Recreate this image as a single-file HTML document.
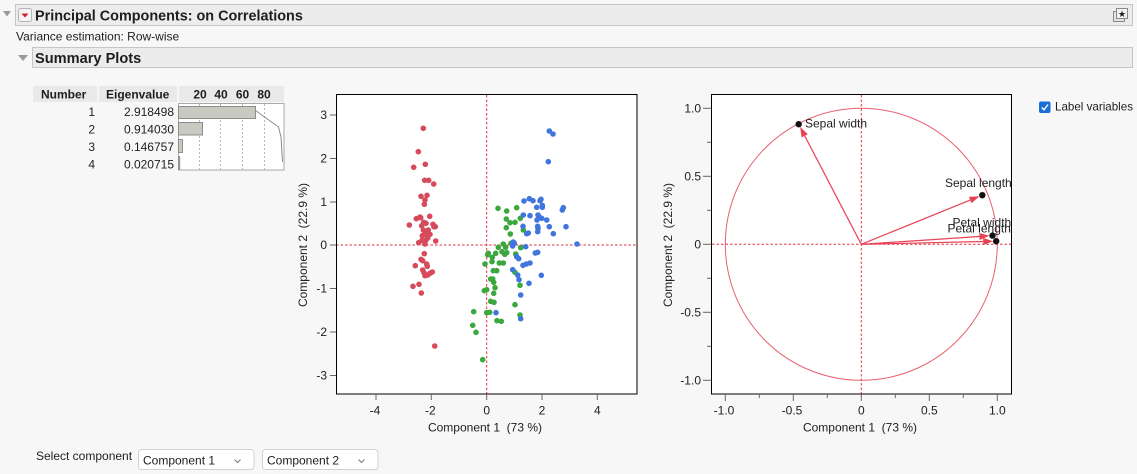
<!DOCTYPE html>
<html>
<head>
<meta charset="utf-8">
<style>
html,body{margin:0;padding:0;background:#f7f7f7;}
svg{display:block;font-family:"Liberation Sans","DejaVu Sans",sans-serif;}
text{fill:#1e1e1e;}
</style>
</head>
<body>
<svg width="1137" height="474" viewBox="0 0 1137 474" xmlns="http://www.w3.org/2000/svg">
<rect x="0" y="0" width="1137" height="474" fill="#f7f7f7"/>

<!-- Title bar -->
<polygon points="3,11 11,11 7,16.5" fill="#9a9a9a"/>
<rect x="15.5" y="4.5" width="1117" height="21" fill="#ececec" stroke="#c6c6c6"/>
<rect x="18.5" y="8.5" width="13" height="13" rx="2" fill="#f4f4f4" stroke="#b4b4b4"/>
<polygon points="21.5,13.5 28.5,13.5 25,17.5" fill="#d0202a"/>
<text x="35" y="20.5" font-size="14.4" font-weight="bold" fill="#111">Principal Components: on Correlations</text>
<!-- top right icon -->
<rect x="1113.5" y="11.5" width="11" height="10" fill="#e4e4e4" stroke="#8a8a8a"/>
<rect x="1116.5" y="8.5" width="11" height="10" fill="#f2f2f2" stroke="#8a8a8a"/>
<text x="1122" y="17" font-size="9" text-anchor="middle" fill="#555">★</text>

<text x="16" y="40.5" font-size="12">Variance estimation: Row-wise</text>

<!-- Summary Plots bar -->
<polygon points="18,55 28,55 23,61" fill="#9a9a9a"/>
<rect x="32.5" y="47.5" width="1100" height="20" fill="#ececec" stroke="#c6c6c6"/>
<text x="35" y="63" font-size="14.6" font-weight="bold" fill="#111">Summary Plots</text>

<!-- Eigenvalue table -->
<rect x="33" y="86" width="64" height="16" fill="#e9e9e9"/>
<rect x="99" y="86" width="78" height="16" fill="#e9e9e9"/>
<rect x="179" y="86" width="105" height="16" fill="#e9e9e9"/>
<text x="41" y="98.5" font-size="12" font-weight="bold">Number</text>
<text x="106" y="98.5" font-size="12" font-weight="bold">Eigenvalue</text>
<g font-size="12" font-weight="bold" text-anchor="middle">
<text x="200" y="98.5">20</text><text x="221" y="98.5">40</text><text x="242.5" y="98.5">60</text><text x="264" y="98.5">80</text>
</g>
<g font-size="12" text-anchor="end">
<text x="95" y="116">1</text><text x="174" y="116">2.918498</text>
<text x="95" y="133.5">2</text><text x="174" y="133.5">0.914030</text>
<text x="95" y="151">3</text><text x="174" y="151">0.146757</text>
<text x="95" y="168.5">4</text><text x="174" y="168.5">0.020715</text>
</g>
<rect x="178.5" y="103.5" width="105.5" height="66.5" fill="#ffffff" stroke="#a8a8a8"/>
<g stroke="#b8b8b8" stroke-dasharray="2,2" stroke-width="1">
<line x1="199.5" y1="104" x2="199.5" y2="170"/>
<line x1="220.5" y1="104" x2="220.5" y2="170"/>
<line x1="242.5" y1="104" x2="242.5" y2="170"/>
<line x1="264.5" y1="104" x2="264.5" y2="170"/>
</g>
<g fill="#c9c9c1" stroke="#8e8e88">
<rect x="178.5" y="106.5" width="77" height="12"/>
<rect x="178.5" y="122.5" width="24" height="12.5"/>
<rect x="178.5" y="139.5" width="4" height="13"/>
<rect x="178.5" y="156.5" width="1.2" height="13"/>
</g>
<polyline points="255.5,110.5 278.5,127 281,137 282.5,162" fill="none" stroke="#8a8a8a" stroke-width="1"/>

<!-- ===== Score plot ===== -->
<rect x="336" y="94.5" width="301" height="299.5" fill="#ffffff"/>
<g stroke="#e0303f" stroke-width="1" stroke-dasharray="2.5,2">
<line x1="486.7" y1="95" x2="486.7" y2="394"/>
<line x1="336" y1="245" x2="637" y2="245"/>
</g>
<g fill="#d64a5a">
<circle cx="423.3" cy="128.3" r="2.8"/><circle cx="418.3" cy="151.7" r="2.8"/><circle cx="413.7" cy="167.3" r="2.8"/><circle cx="425.3" cy="164.3" r="2.8"/>
<circle cx="424.7" cy="180.3" r="2.8"/><circle cx="428.7" cy="180.3" r="2.8"/><circle cx="433.7" cy="184" r="2.8"/><circle cx="421" cy="196.3" r="2.8"/>
<circle cx="427" cy="195.3" r="2.8"/><circle cx="425" cy="200" r="2.8"/><circle cx="424.3" cy="204.3" r="2.8"/><circle cx="429.7" cy="216.3" r="2.8"/>
<circle cx="420" cy="217" r="2.8"/><circle cx="416.3" cy="218.7" r="2.8"/><circle cx="409.3" cy="225" r="2.8"/><circle cx="423.7" cy="222.3" r="2.8"/>
<circle cx="426" cy="223.3" r="2.8"/><circle cx="421.7" cy="225.7" r="2.8"/><circle cx="433" cy="224.3" r="2.8"/><circle cx="435.3" cy="226.7" r="2.8"/>
<circle cx="434" cy="226.7" r="2.8"/><circle cx="426" cy="231.7" r="2.8"/><circle cx="424.7" cy="234.3" r="2.8"/><circle cx="422.3" cy="235.7" r="2.8"/>
<circle cx="430" cy="234.3" r="2.8"/><circle cx="427.7" cy="238" r="2.8"/><circle cx="422" cy="240.3" r="2.8"/><circle cx="418.7" cy="242.7" r="2.8"/>
<circle cx="425" cy="244" r="2.8"/><circle cx="435.7" cy="241" r="2.8"/><circle cx="424.3" cy="253.7" r="2.8"/><circle cx="421" cy="259.3" r="2.8"/>
<circle cx="422.7" cy="260.7" r="2.8"/><circle cx="415.3" cy="265.7" r="2.8"/><circle cx="426.7" cy="264" r="2.8"/><circle cx="427.3" cy="266.3" r="2.8"/>
<circle cx="422.7" cy="270" r="2.8"/><circle cx="432.3" cy="272" r="2.8"/><circle cx="430" cy="273.3" r="2.8"/><circle cx="425" cy="275.7" r="2.8"/>
<circle cx="427.7" cy="275" r="2.8"/><circle cx="419" cy="284.3" r="2.8"/><circle cx="413" cy="286.3" r="2.8"/><circle cx="421.3" cy="293" r="2.8"/>
<circle cx="434.7" cy="346" r="2.8"/><circle cx="420.7" cy="217.7" r="2.8"/><circle cx="423.3" cy="230" r="2.8"/><circle cx="428.3" cy="230" r="2.8"/>
<circle cx="426" cy="240" r="2.8"/><circle cx="424" cy="272.7" r="2.8"/>
</g>
<g fill="#3ba83f">
<circle cx="498" cy="208.3" r="2.8"/><circle cx="506.7" cy="211" r="2.8"/><circle cx="516.7" cy="207.7" r="2.8"/><circle cx="506.3" cy="219" r="2.8"/>
<circle cx="520.3" cy="218.3" r="2.8"/><circle cx="510" cy="222.7" r="2.8"/><circle cx="515" cy="222.3" r="2.8"/><circle cx="506.3" cy="227.7" r="2.8"/>
<circle cx="523.3" cy="230" r="2.8"/><circle cx="510.3" cy="234" r="2.8"/>
<circle cx="503.3" cy="244" r="2.8"/><circle cx="511" cy="243.3" r="2.8"/><circle cx="498.3" cy="247.3" r="2.8"/><circle cx="505.7" cy="247.3" r="2.8"/>
<circle cx="520.7" cy="247.7" r="2.8"/><circle cx="502" cy="251.7" r="2.8"/><circle cx="506.7" cy="252.7" r="2.8"/><circle cx="504.7" cy="254.3" r="2.8"/>
<circle cx="488.3" cy="253.3" r="2.8"/><circle cx="487.7" cy="254.7" r="2.8"/><circle cx="495.7" cy="253.3" r="2.8"/><circle cx="515.7" cy="254" r="2.8"/>
<circle cx="492.3" cy="257.3" r="2.8"/><circle cx="492" cy="261.7" r="2.8"/><circle cx="485" cy="264" r="2.8"/><circle cx="499.3" cy="263" r="2.8"/>
<circle cx="503.3" cy="263" r="2.8"/><circle cx="493.3" cy="270.7" r="2.8"/><circle cx="496.7" cy="270.7" r="2.8"/><circle cx="515" cy="272.3" r="2.8"/>
<circle cx="490.7" cy="279" r="2.8"/><circle cx="492.7" cy="279" r="2.8"/><circle cx="493.7" cy="282.3" r="2.8"/><circle cx="520" cy="285.3" r="2.8"/>
<circle cx="495" cy="287.7" r="2.8"/><circle cx="484.3" cy="290.7" r="2.8"/><circle cx="486.7" cy="289.7" r="2.8"/><circle cx="493.7" cy="293.3" r="2.8"/>
<circle cx="490.7" cy="301.3" r="2.8"/><circle cx="494" cy="302.3" r="2.8"/><circle cx="515" cy="304.7" r="2.8"/><circle cx="473.7" cy="311.7" r="2.8"/>
<circle cx="486.7" cy="312.7" r="2.8"/><circle cx="489.7" cy="312.3" r="2.8"/><circle cx="520" cy="315" r="2.8"/><circle cx="497" cy="320.7" r="2.8"/>
<circle cx="501.3" cy="321.3" r="2.8"/><circle cx="472.7" cy="325.3" r="2.8"/><circle cx="476" cy="332.3" r="2.8"/><circle cx="482.7" cy="359.7" r="2.8"/>
</g>
<g fill="#4175de">
<circle cx="549.3" cy="131" r="2.8"/><circle cx="553" cy="134" r="2.8"/><circle cx="548.3" cy="161.7" r="2.8"/><circle cx="524" cy="201" r="2.8"/>
<circle cx="529.3" cy="198.7" r="2.8"/><circle cx="533" cy="200.7" r="2.8"/><circle cx="540" cy="200.7" r="2.8"/><circle cx="541" cy="199.3" r="2.8"/>
<circle cx="536.7" cy="207.3" r="2.8"/><circle cx="542.3" cy="205.3" r="2.8"/><circle cx="542.3" cy="207.3" r="2.8"/><circle cx="562.3" cy="210" r="2.8"/>
<circle cx="563.3" cy="207.7" r="2.8"/><circle cx="523.3" cy="215" r="2.8"/><circle cx="530" cy="215.7" r="2.8"/><circle cx="538" cy="215" r="2.8"/>
<circle cx="539" cy="216.7" r="2.8"/><circle cx="537" cy="220" r="2.8"/><circle cx="541.7" cy="218.3" r="2.8"/><circle cx="546.7" cy="220" r="2.8"/>
<circle cx="523" cy="226.3" r="2.8"/><circle cx="537.7" cy="226.3" r="2.8"/><circle cx="538" cy="228.3" r="2.8"/><circle cx="549.3" cy="226.7" r="2.8"/>
<circle cx="566" cy="226.7" r="2.8"/><circle cx="526.7" cy="233.7" r="2.8"/><circle cx="528.3" cy="233" r="2.8"/><circle cx="537.7" cy="231.7" r="2.8"/>
<circle cx="553.3" cy="233.7" r="2.8"/><circle cx="513.3" cy="242" r="2.8"/><circle cx="514.3" cy="243.3" r="2.8"/><circle cx="512.7" cy="246" r="2.8"/>
<circle cx="525.7" cy="246.7" r="2.8"/><circle cx="577" cy="244" r="2.8"/><circle cx="535.3" cy="253" r="2.8"/><circle cx="537.7" cy="252.3" r="2.8"/>
<circle cx="516.7" cy="256.7" r="2.8"/><circle cx="518.7" cy="258.7" r="2.8"/><circle cx="523" cy="265.3" r="2.8"/><circle cx="526.3" cy="264" r="2.8"/>
<circle cx="530" cy="263" r="2.8"/><circle cx="512.7" cy="269.7" r="2.8"/><circle cx="517.7" cy="275" r="2.8"/><circle cx="541.3" cy="275.3" r="2.8"/>
<circle cx="519" cy="279.7" r="2.8"/><circle cx="529" cy="283.3" r="2.8"/><circle cx="520.7" cy="295" r="2.8"/><circle cx="496" cy="312.7" r="2.8"/>
<circle cx="520.7" cy="318.7" r="2.8"/><circle cx="513" cy="244.5" r="2.8"/>
</g>
<rect x="336.5" y="94.5" width="300.5" height="299.5" fill="none" stroke="#000" stroke-width="1"/>
<!-- ticks left plot -->
<g stroke="#666" stroke-width="1">
<line x1="330" y1="115" x2="336" y2="115"/><line x1="330" y1="158.5" x2="336" y2="158.5"/><line x1="330" y1="202" x2="336" y2="202"/>
<line x1="330" y1="245" x2="336" y2="245"/><line x1="330" y1="288.5" x2="336" y2="288.5"/><line x1="330" y1="332" x2="336" y2="332"/>
<line x1="330" y1="375.5" x2="336" y2="375.5"/>
<line x1="376" y1="394" x2="376" y2="400"/><line x1="431.3" y1="394" x2="431.3" y2="400"/><line x1="486.7" y1="394" x2="486.7" y2="400"/>
<line x1="542" y1="394" x2="542" y2="400"/><line x1="597.3" y1="394" x2="597.3" y2="400"/>
</g>
<g font-size="12" text-anchor="end">
<text x="327" y="119">3</text><text x="327" y="162.5">2</text><text x="327" y="206">1</text><text x="327" y="249">0</text>
<text x="327" y="292.5">-1</text><text x="327" y="336">-2</text><text x="327" y="379.5">-3</text>
</g>
<g font-size="12" text-anchor="middle">
<text x="375" y="414.5">-4</text><text x="430.3" y="414.5">-2</text><text x="486.7" y="414.5">0</text><text x="542" y="414.5">2</text><text x="597.3" y="414.5">4</text>
<text x="485" y="431.5">Component 1&#160; (73 %)</text>
<text transform="translate(307,245) rotate(-90)" x="0" y="0">Component 2&#160; (22.9 %)</text>
</g>

<!-- ===== Loading plot ===== -->
<rect x="711.5" y="94.5" width="300" height="299.5" fill="#ffffff"/>
<g stroke="#e0303f" stroke-width="1" stroke-dasharray="2.5,2">
<line x1="861.3" y1="95" x2="861.3" y2="394"/>
<line x1="712" y1="244.3" x2="1011" y2="244.3"/>
</g>
<circle cx="861.3" cy="244.3" r="136" fill="none" stroke="#e8606e" stroke-width="1"/>
<g stroke="#e84355" stroke-width="1.2">
<line x1="861.3" y1="244.3" x2="804.7" y2="135.8"/>
<line x1="861.3" y1="244.3" x2="970.2" y2="200.1"/>
<line x1="861.3" y1="244.3" x2="979.5" y2="236.5"/>
<line x1="861.3" y1="244.3" x2="983.2" y2="241.5"/>
</g>
<g fill="#e84355">
<polygon points="800.1,126.9 807.8,134.2 801.6,137.4"/>
<polygon points="979.5,196.3 971.5,203.3 968.9,196.9"/>
<polygon points="989.5,235.8 979.7,240 979.3,233"/>
<polygon points="993.2,241.3 983.3,245 983.1,238"/>
</g>
<g fill="#111">
<circle cx="798.7" cy="124.2" r="3.2"/>
<circle cx="982.3" cy="195.2" r="3.2"/>
<circle cx="992.5" cy="235.6" r="3.2"/>
<circle cx="996.2" cy="241.2" r="3.2"/>
</g>
<g font-size="12">
<text x="805" y="127.5">Sepal width</text>
<text x="945" y="187">Sepal length</text>
<text x="952.5" y="226.5">Petal width</text>
<text x="947.5" y="232.5">Petal length</text>
</g>
<rect x="711.5" y="94.5" width="300" height="299.5" fill="none" stroke="#000" stroke-width="1"/>
<g stroke="#666" stroke-width="1">
<line x1="703" y1="108.3" x2="711" y2="108.3"/><line x1="707" y1="142.3" x2="711" y2="142.3"/>
<line x1="703" y1="176.3" x2="711" y2="176.3"/><line x1="707" y1="210.3" x2="711" y2="210.3"/>
<line x1="703" y1="244.3" x2="711" y2="244.3"/><line x1="707" y1="278.3" x2="711" y2="278.3"/>
<line x1="703" y1="312.3" x2="711" y2="312.3"/><line x1="707" y1="346.3" x2="711" y2="346.3"/>
<line x1="703" y1="380.3" x2="711" y2="380.3"/>
<line x1="725.3" y1="394" x2="725.3" y2="401"/><line x1="759.3" y1="394" x2="759.3" y2="398"/>
<line x1="793.3" y1="394" x2="793.3" y2="401"/><line x1="827.3" y1="394" x2="827.3" y2="398"/>
<line x1="861.3" y1="394" x2="861.3" y2="401"/><line x1="895.3" y1="394" x2="895.3" y2="398"/>
<line x1="929.3" y1="394" x2="929.3" y2="401"/><line x1="963.3" y1="394" x2="963.3" y2="398"/>
<line x1="997.3" y1="394" x2="997.3" y2="401"/>
</g>
<g font-size="12" text-anchor="end">
<text x="701" y="112.5">1.0</text><text x="701" y="180.5">0.5</text><text x="701" y="248.5">0</text>
<text x="701" y="316.5">-0.5</text><text x="701" y="384.5">-1.0</text>
</g>
<g font-size="12" text-anchor="middle">
<text x="724" y="414.5">-1.0</text><text x="792" y="414.5">-0.5</text><text x="861.3" y="414.5">0</text>
<text x="929.3" y="414.5">0.5</text><text x="997.3" y="414.5">1.0</text>
<text x="860" y="431.5">Component 1&#160; (73 %)</text>
<text transform="translate(672,245) rotate(-90)" x="0" y="0">Component 2&#160; (22.9 %)</text>
</g>

<!-- Label variables checkbox -->
<rect x="1039" y="101.5" width="11.5" height="11.5" rx="2" fill="#1a6fd6"/>
<polyline points="1041.8,107.5 1044,109.8 1048,104.5" fill="none" stroke="#fff" stroke-width="1.4"/>
<text x="1055" y="110.5" font-size="11.6">Label variables</text>

<!-- Select component -->
<text x="36" y="460" font-size="12">Select component</text>
<rect x="138.5" y="449.5" width="115.5" height="20" rx="3" fill="#ffffff" stroke="#d2d2d2"/>
<text x="143" y="464.5" font-size="12">Component 1</text>
<polyline points="234.5,459.5 237.5,462.5 240.5,459.5" fill="none" stroke="#777" stroke-width="1"/>
<rect x="262.5" y="449.5" width="115.5" height="20" rx="3" fill="#ffffff" stroke="#d2d2d2"/>
<text x="267" y="464.5" font-size="12">Component 2</text>
<polyline points="358.5,459.5 361.5,462.5 364.5,459.5" fill="none" stroke="#777" stroke-width="1"/>
</svg>
</body>
</html>
